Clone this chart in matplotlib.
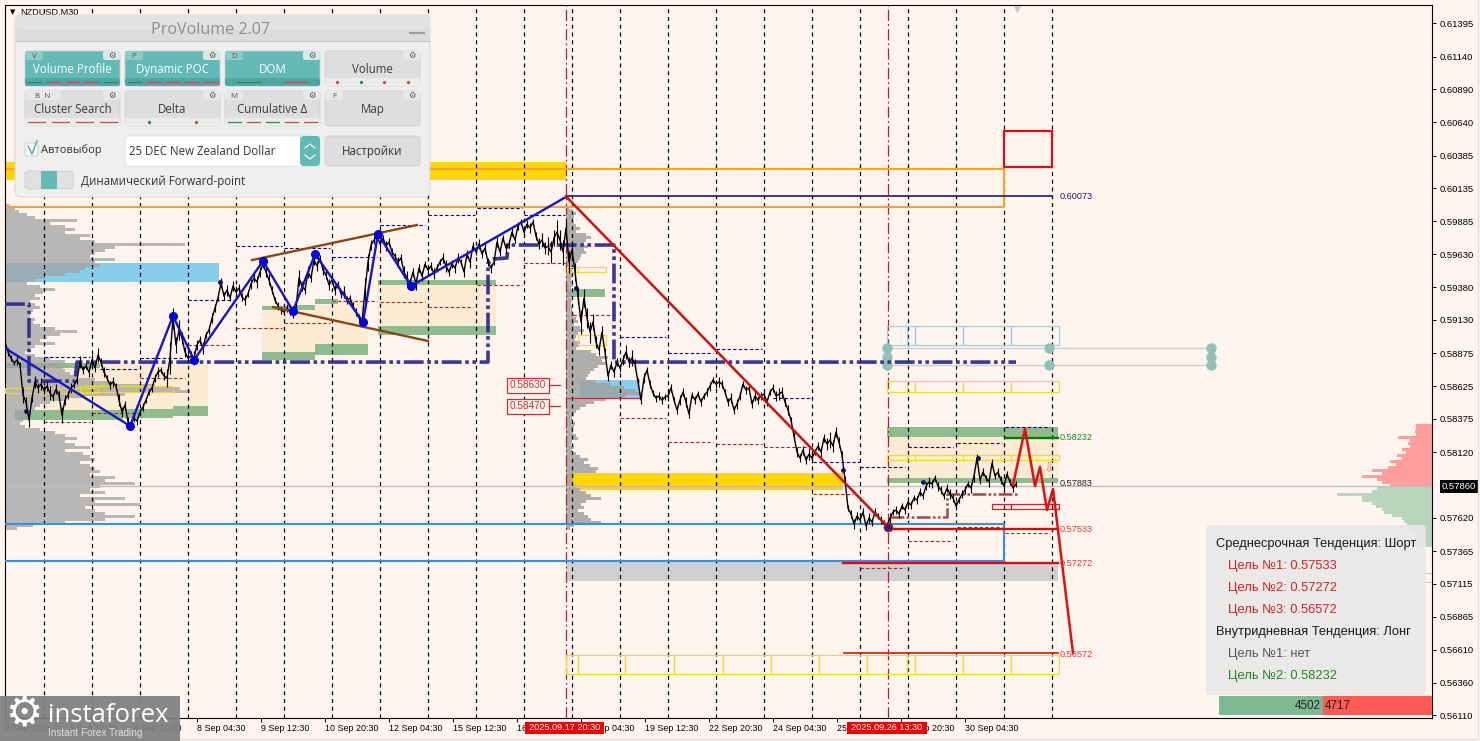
import numpy as np
import matplotlib
matplotlib.use('Agg')
import matplotlib.pyplot as plt
from matplotlib.patches import Rectangle, FancyBboxPatch

plt.rcParams['font.family'] = ['Liberation Sans', 'DejaVu Sans']

BG = '#FFF5EE'
# x axis is the M30 bar number, one bar per pixel
x_ticks = [5, 69, 133, 197, 261, 325, 389, 453, 517, 581, 645, 709, 773, 837, 901, 965]
x_labels = ['2 Sep 2025', '3 Sep 12:30', '4 Sep 20:30', '8 Sep 04:30', '9 Sep 12:30', '10 Sep 20:30',
            '12 Sep 04:30', '15 Sep 12:30', '16 Sep 20:30', '18 Sep 04:30', '19 Sep 12:30', '22 Sep 20:30',
            '24 Sep 04:30', '25 Sep 12:30', '26 Sep 20:30', '30 Sep 04:30']
y_ticks = [0.61395, 0.61140, 0.60890, 0.60640, 0.60385, 0.60135, 0.59885, 0.59630, 0.59380, 0.59130, 0.58875,
           0.58625, 0.58375, 0.58120, 0.57620, 0.57365, 0.57115, 0.56865, 0.56610, 0.56360, 0.56110]
day_lines = [44, 92, 140, 188, 236, 284, 332, 380, 428, 476, 524, 572, 620, 668, 716, 764, 812, 860, 908, 956, 1004, 1052]
last_price = 0.57860

# price, every third bar, in 1e-5
price_pts = [58961, 58885, 58839, 58801, 58824, 58786, 58556, 58503, 58365, 58533, 58656, 58610, 58640, 58595, 58625,
             58572, 58541, 58602, 58556, 58404,
             58518, 58556, 58610, 58633, 58671, 58808, 58747, 58778, 58732, 58824, 58763, 58862, 58808, 58732, 58686,
             58633, 58656, 58625, 58518, 58427, 58480, 58350,
             58335, 58381, 58358, 58427, 58465, 58518, 58579, 58610, 58686, 58732, 58747, 58701, 58686, 58839, 59144,
             58938, 59053, 58992, 58885, 58839, 58854, 58839, 58938, 58976, 58915, 59015, 59053, 59144, 59221, 59297,
             59412, 59312, 59358, 59297, 59389, 59343, 59374, 59305, 59282, 59328, 59404, 59450, 59419, 59496,
             59557, 59496, 59435, 59358, 59282, 59236, 59206, 59190, 59221, 59190, 59167, 59221, 59450,
             59389, 59358, 59496, 59450, 59587, 59542, 59603, 59511, 59473, 59397, 59435, 59358, 59404, 59328, 59343,
             59282, 59297, 59236, 59190, 59144, 59114,
             59358, 59572, 59702, 59740, 59771, 59710, 59755, 59694, 59725, 59648, 59618, 59572, 59603, 59496, 59450,
             59412, 59496, 59404, 59526, 59465, 59557, 59511, 59542, 59481, 59526, 59572, 59603, 59542, 59496, 59557,
             59526, 59603, 59572, 59496, 59633, 59572, 59694, 59648, 59710, 59633, 59679, 59572, 59526, 59572, 59725,
             59648, 59755, 59679, 59710, 59801, 59740, 59847, 59878, 59801, 59862, 59832, 59878, 59771, 59710, 59740,
             59679, 59694, 59648, 59755, 59801, 59740,
             59648, 59832, 59572, 59664, 59496, 59312, 59114, 59297, 59144, 59037, 59114, 58961, 58900, 59037, 58885,
             58701, 58786, 58732, 58808, 58763, 58824, 58885, 58808, 58839, 58793, 58656, 58518,
             58686, 58747, 58640, 58572, 58533, 58549, 58518, 58541, 58549, 58610, 58518, 58442, 58518, 58579, 58503,
             58411, 58556, 58518, 58564, 58503, 58549,
             58579, 58625, 58671, 58640, 58656, 58640, 58579, 58503, 58533, 58442, 58488, 58549, 58640, 58595, 58610,
             58488, 58549, 58518, 58549, 58564, 58503, 58579, 58610, 58549, 58564, 58579, 58503, 58442, 58365, 58243, 58121,
             58075, 58136, 58060, 58106, 58075, 58121, 58167, 58121, 58228, 58182, 58213, 58167, 58274, 58197, 58098,
             57907, 57693, 57648, 57571, 57632, 57602, 57663, 57556, 57617, 57586, 57663, 57632, 57602, 57571, 57556,
             57617, 57663, 57678, 57648, 57709, 57678,
             57739, 57716, 57770, 57755, 57816, 57785, 57861, 57892, 57877, 57923, 57861, 57831, 57785, 57846, 57800,
             57770, 57709, 57755, 57800, 57831, 57877, 57846, 57938, 58075, 57907, 57968, 57923, 57892, 58037, 57938,
             57968, 57907, 57861, 57953, 57892, 57846, 57877]
# half range of the candles around each point above, in 1e-5
price_wick = [15, 30, 22, 18, 35, 25, 60, 40, 55, 30, 48, 35, 45, 30, 38, 52, 28, 40, 33, 60,
              35, 28, 40, 22, 30, 45, 33, 25, 38, 42, 30, 50, 28, 36, 24, 32, 40, 26, 44, 35,
              30, 38, 25, 33, 28, 22, 30, 26, 20, 34, 28, 36, 22, 30, 70, 120, 80, 60, 75, 48,
              35, 28, 40, 55, 38, 30, 45, 25, 33, 40, 28, 22, 36, 30, 42, 26, 35, 48, 28, 32,
              40, 25, 38, 30, 44, 35, 28, 36, 42, 30, 24, 34, 28, 20, 30, 26, 22, 38, 60, 36,
              28, 44, 30, 40, 35, 26, 38, 30, 42, 28, 36, 25, 32, 44, 30, 24, 34, 28, 30, 38,
              90, 65, 40, 32, 28, 36, 24, 40, 30, 34, 26, 42, 30, 48, 55, 40, 34, 44, 28, 36,
              24, 38, 30, 42, 32, 26, 36, 44, 28, 30, 34, 40, 26, 36, 28, 42, 30, 24, 38, 32,
              40, 28, 34, 26, 36, 30, 22, 38, 28, 32, 24, 30, 26, 34, 28, 36, 24, 30, 42, 55,
              48, 70, 85, 60, 90, 75, 95, 70, 85, 65, 72, 60, 90, 68, 75, 80, 60, 48, 36, 44,
              32, 40, 30, 36, 28, 34, 40, 55, 38, 60, 40, 32, 28, 36, 24, 30, 22, 26, 34, 28,
              24, 38, 30, 26, 34, 40, 28, 36, 30, 24, 32, 26, 30, 22, 28, 34, 26, 30, 36, 28,
              24, 32, 40, 30, 36, 28, 22, 30, 26, 34, 38, 28, 32, 24, 30, 26, 34, 40, 48, 42,
              30, 36, 26, 32, 38, 28, 34, 30, 44, 36, 26, 34, 40, 30, 45, 60, 48, 36, 40, 28,
              34, 26, 32, 38, 30, 24, 34, 28, 36, 26, 30, 24, 34, 28, 30, 36, 26, 30, 34, 24,
              28, 36, 30, 26, 34, 28, 24, 32, 36, 30, 26, 34, 28, 24, 30, 36, 28, 34, 26, 32,
              30, 24, 36, 45, 34, 28, 32, 26, 40, 30, 26, 34, 28, 32, 26, 24, 28, 22]

zig_x = [5, 130, 173, 194, 263, 293, 315, 363, 378, 411, 566]
zig_y = [0.58915, 0.58320, 0.59160, 0.58824, 0.59580, 0.59198, 0.59633, 0.59114, 0.59786, 0.59389, 0.60069]
fall_x = [566, 888]
fall_y = [0.60073, 0.57548]
fc_x = [1013, 1025, 1035, 1040, 1047, 1053, 1073]
fc_y = [0.57869, 0.58297, 0.57861, 0.58007, 0.57678, 0.57839, 0.56586]
poc_x = [5, 29, 29, 35, 75, 77, 488, 488, 493, 507, 508, 614, 614, 1016]
poc_y = [0.59251, 0.59251, 0.58663, 0.58663, 0.58663, 0.58808, 0.58808, 0.59564, 0.59595, 0.59603, 0.59702, 0.59702, 0.58808, 0.58808]
dyn_x = [890, 947, 947, 1017]
dyn_y = [0.57625, 0.57625, 0.57800, 0.57800]

# volume profiles, widths in bars, one row each 0.000229
left_vol = [5, 10, 14, 22, 30, 72, 45, 60, 70, 60, 85, 75, 90, 180, 110, 100, 90, 85, 110, 90, 95, 80, 75, 60, 40, 30,
            22, 35, 50, 38, 30, 35, 25, 30, 35, 28, 22, 25, 30, 28, 35, 50, 72, 55, 42, 35, 50, 30, 25, 20, 30, 45, 60, 55,
            58, 60, 65, 72, 90, 110, 150, 175, 185, 120, 80, 60, 45, 35, 30, 28, 25, 22, 18, 15, 20, 35, 50, 60, 72, 60, 70,
            85, 60, 78, 85, 90, 75, 85, 90, 95, 85, 110, 100, 130, 95, 85, 100, 75, 120, 90, 135, 80, 90, 100, 130, 100, 60, 28, 12]
mid_vol = [3, 6, 10, 8, 6, 8, 10, 14, 10, 20, 25, 20, 18, 22, 18, 20, 15, 14, 12, 10, 7, 6, 7, 6, 5, 6, 7, 5, 8, 6, 5, 6, 5,
           7, 6, 6, 8, 10, 12, 8, 14, 18, 12, 10, 9, 14, 13, 10, 25, 30, 42, 36, 40, 32, 28, 24, 22, 20, 30, 45, 58, 70, 75,
           60, 40, 28, 20, 14, 10, 8, 6, 7, 9, 8, 6, 7, 10, 12, 6, 5, 8, 6, 10, 14, 22, 18, 24, 32, 30, 8, 5, 7, 6, 10, 14,
           20, 25, 35, 20, 15, 18, 12, 18, 22, 25, 35, 8, 4]
dom_ask = [16, 16, 17, 16, 34, 22, 24, 22, 30, 26, 35, 30, 42, 36, 44, 60, 50, 70, 55, 50, 42]
dom_bid = [55, 60, 95, 70, 70, 60, 56, 50, 48, 40, 30, 28, 25, 34, 20, 17, 17, 17, 17, 17]
dom_far_p = [0.57228, 0.57197, 0.57128, 0.60802, 0.57770]
dom_far_w = [24, 19, 11, 30, 214]
delta_buy = 4502
delta_sell = 4717

# zones: x0, x1, top, bottom
tan_zones = [(44, 208, 0.58793, 0.58442), (262, 368, 0.59244, 0.58885), (338, 368, 0.59282, 0.59244),
             (378, 496, 0.59397, 0.59083), (887, 1058, 0.58236, 0.57923)]
green_zones = [(5, 100, 0.58801, 0.58763), (15, 123, 0.58442, 0.58365), (123, 173, 0.58450, 0.58381), (173, 208, 0.58472, 0.58396),
               (262, 297, 0.59236, 0.59206), (297, 315, 0.59244, 0.59206), (315, 338, 0.59290, 0.59251),
               (262, 315, 0.58885, 0.58824), (315, 368, 0.58946, 0.58862),
               (378, 496, 0.59435, 0.59397), (378, 496, 0.59083, 0.59015), (566, 605, 0.59366, 0.59305),
               (887, 1058, 0.58312, 0.58236), (887, 1058, 0.57923, 0.57884)]
sky_zones = [(5, 219, 0.59564, 0.59419), (580, 640, 0.58671, 0.58534)]
gold_zones = [(5, 566, 0.60336, 0.60198), (566, 843, 0.57961, 0.57831)]
grey_zones = [(566, 1058, 0.57281, 0.57136)]

# outlined boxes: colour, cell edges, top, bottom
right_cells = [887, 907, 915, 963, 1011, 1059]
bottom_cells = [566, 578, 625, 674, 723, 771, 819, 867, 907, 915, 963, 1011, 1059]
cell_boxes = [('#9FD0E0', right_cells, 0.59083, 0.58938), ('#F3D73C', right_cells, 0.58663, 0.58579),
              ('#F3D73C', right_cells, 0.58098, 0.58060), ('#CC2222', [992, 1011, 1059], 0.57724, 0.57686),
              ('#F3D73C', bottom_cells, 0.56571, 0.56426), ('#E8D24A', [5, 98], 0.58610, 0.58572),
              ('#F3D73C', [80, 173], 0.58625, 0.58579), ('#F3D73C', [567, 578, 606], 0.59534, 0.59496),
              ('#F3D73C', [578, 606], 0.59015, 0.58938)]

# daily high / low dashes: x0, x1, price
high_dash = [(44, 90, 0.58847), (100, 138, 0.58755), (140, 183, 0.58839), (188, 233, 0.59282), (236, 282, 0.59694),
             (284, 330, 0.59679), (332, 377, 0.59610), (380, 425, 0.59855), (428, 475, 0.59931), (477, 522, 0.59985),
             (524, 565, 0.59931), (620, 666, 0.58999), (668, 713, 0.58877), (716, 762, 0.58908), (773, 810, 0.58533),
             (813, 860, 0.58045), (860, 905, 0.58007), (908, 953, 0.58159), (957, 1002, 0.58190), (1005, 1050, 0.58312)]
low_dash = [(44, 90, 0.58350), (92, 137, 0.58419), (140, 185, 0.58686), (188, 233, 0.58938), (236, 282, 0.59068),
            (284, 330, 0.59106), (332, 377, 0.59274), (380, 425, 0.59267), (428, 473, 0.59228), (477, 522, 0.59397),
            (524, 565, 0.59564), (573, 615, 0.59167), (620, 666, 0.58381), (668, 713, 0.58197), (716, 762, 0.58182),
            (764, 810, 0.58159), (813, 853, 0.57800), (860, 905, 0.57235), (908, 953, 0.57441), (957, 1002, 0.57548),
            (1005, 1050, 0.57503)]
dots_x = [26, 220, 576, 843, 923, 978]
dots_y = [0.58434, 0.59419, 0.59374, 0.57983, 0.57892, 0.58075]

fig = plt.figure(figsize=(14.8, 7.41), dpi=100, facecolor=BG)
ax = fig.add_axes([5 / 1480, 23 / 741, 1427 / 1480, 713 / 741], facecolor=BG)
ax.set_xlim(5, 1432)
ax.set_ylim(0.56090, 0.61535)


def zone(z, color, zo=1, alpha=1):
    for x0, x1, top, bot in z:
        ax.add_patch(Rectangle((x0, bot), x1 - x0, top - bot, fc=color, ec='none', zorder=zo, alpha=alpha))


zone(tan_zones, '#FDEBD3')
zone(green_zones, '#8FBC8F', 1.1)
zone(sky_zones, '#87CEEB', 1.1)
zone(gold_zones, '#FFD700', 1.1)
zone(grey_zones, '#D0D0D0', 1.1)

left_rows = 0.60007 - 0.000229 * np.arange(len(left_vol))
mid_rows = 0.59985 - 0.000229 * np.arange(len(mid_vol))
ask_rows = 0.58327 - 0.000229 * np.arange(len(dom_ask))
bid_rows = 0.57846 - 0.000229 * np.arange(len(dom_bid))
ax.barh(left_rows, left_vol, left=5, height=0.000229, color='#A2A2A2', alpha=0.75, lw=0, zorder=1.5)
ax.barh(mid_rows, mid_vol, left=566, height=0.000229, color='#A2A2A2', alpha=0.85, lw=0, zorder=1.5)
ax.barh(ask_rows, dom_ask, left=1432 - np.array(dom_ask), height=0.000229, color='#FF9E9A', lw=0, zorder=1.5)
ax.barh(bid_rows, dom_bid, left=1432 - np.array(dom_bid), height=0.000229, color='#B9D6BD', lw=0, zorder=1.5)
ax.barh(dom_far_p, dom_far_w, left=1432 - np.array(dom_far_w), height=0.00007,
        color=['#B9D6BD', '#B9D6BD', '#B9D6BD', '#F7B5A5', '#C9DDCB'], lw=0, zorder=1.5)

for d in day_lines:
    ax.axvline(d, color='black', lw=0.9, ls=(0, (3.2, 3)), zorder=2)
for d in (566, 888):
    ax.axvline(d, color='#B22222', lw=0.9, ls=(0, (9, 2.5, 1.5, 2.5)), zorder=2)
ax.axhline(last_price, color='#BDBDBD', lw=1, zorder=2)

# level lines
ax.plot([5, 566], [0.60282, 0.60282], color='#F5A623', lw=1.5, zorder=2.2)
ax.plot([566, 1004, 1004, 5], [0.60282, 0.60282, 0.59992, 0.59992], color='#F5A623', lw=1.5, zorder=2.2)
ax.add_patch(Rectangle((1004, 0.60298), 48, 0.00275, fc='none', ec='#E01010', lw=1.6, zorder=3))
ax.plot([566, 820, 820, 1052], [0.60073, 0.60073, 0.60078, 0.60078], color='#191970', lw=1.2, zorder=3)
ax.plot([5, 1004, 1004, 5], [0.57571, 0.57571, 0.57289, 0.57289], color='#3A8FDD', lw=1.5, zorder=3)
ax.plot([888, 1058], [0.57533, 0.57533], color='#CC1010', lw=1.7, zorder=3.1)
ax.plot([843, 1058], [0.57272, 0.57272], color='#DD0A0A', lw=1.7, zorder=3.1)
ax.plot([844, 1058], [0.56586, 0.56586], color='#E01010', lw=1.2, zorder=3.1)
ax.plot([1006, 1058], [0.58232, 0.58232], color='#008000', lw=1.7, zorder=3.1)
ax.plot([566, 640], [0.58534, 0.58534], color='#C03030', lw=0.8, zorder=3.1)

for color, edges, top, bot in cell_boxes:
    for x0, x1 in zip(edges[:-1], edges[1:]):
        ax.add_patch(Rectangle((x0, bot), x1 - x0, top - bot, fc='none', ec=color, lw=0.9, zorder=3))

for x0, x1, p in high_dash:
    ax.plot([x0, x1], [p, p], color='#00008B', lw=0.8, ls=(0, (3, 2)), zorder=3)
for x0, x1, p in low_dash:
    ax.plot([x0, x1], [p, p], color='#B22222', lw=0.8, ls=(0, (3, 2)), zorder=3)

ax.plot(poc_x, poc_y, color='#2E2E8F', lw=2.6, ls=(0, (5.5, 1, 1, 1, 1, 1)), zorder=3.3, alpha=0.95)
ax.plot(dyn_x, dyn_y, color='#A04848', lw=1.8, ls=(0, (5.5, 1, 1, 1, 1, 1)), zorder=3.3)

# handles of the fib box
for p in (0.58915, 0.58786):
    ax.plot([887, 1211], [p, p], color='#CFCFCF', lw=1, zorder=3.2)
ax.plot([887, 887, 887, 1049, 1049, 1211, 1211, 1211], [0.58915, 0.58847, 0.58786, 0.58915, 0.58786, 0.58915, 0.58847, 0.58786],
        'o', ms=7.5, color='#8FC1B8', mec='none', zorder=3.2)

price_x = 5 + 3 * np.arange(len(price_pts))
price_c = np.array(price_pts) / 1e5
wick = np.array(price_wick) / 1e5
ax.vlines(price_x[:len(wick)], price_c[:len(wick)] - wick, price_c[:len(wick)] + wick, color='black', lw=0.8, zorder=4)
ax.plot(price_x, price_c, color='black', lw=1.0, zorder=4)
ax.plot(dots_x, dots_y, 'o', ms=3.5, color='#10106A', mec='none', zorder=4.2)
ax.plot([252, 417], [0.59587, 0.59855], color='#8B4513', lw=1.7, zorder=4.3)
ax.plot([273, 428], [0.59228, 0.58969], color='#8B4513', lw=1.7, zorder=4.3)
ax.plot(zig_x, zig_y, color='#1515C8', lw=1.7, zorder=4.5)
ax.plot(zig_x[1:-1], zig_y[1:-1], 'o', ms=6.5, color='#0000E0', mec='none', zorder=4.6)
ax.plot(fall_x, fall_y, color='#CC1111', lw=1.8, zorder=4.5)
ax.plot(fall_x[1], fall_y[1], 'o', ms=6, color='#20209A', mec='#CC1111', zorder=4.6)
ax.plot(fc_x, fc_y, color='#E01010', lw=1.8, zorder=4.5)

ax.text(1060, 0.60073, '0.60073', color='#191970', fontsize=6.6, va='center', zorder=5)
ax.text(1060, 0.58232, '0.58232', color='#1B8A1B', fontsize=6.6, va='center', zorder=5)
ax.text(1060, 0.57883, '0.57883', color='#222222', fontsize=6.6, va='center', zorder=5)
ax.text(1060, 0.57533, '0.57533', color='#E03A3A', fontsize=6.6, va='center', zorder=5)
ax.text(1060, 0.57272, '0.57272', color='#E03A3A', fontsize=6.6, va='center', zorder=5)
ax.text(1060, 0.56572, '0.56572', color='#E03A3A', fontsize=6.6, va='center', zorder=5)
ax.text(1049, 0.57990, '\u21e9', color='#F07F70', fontsize=9, ha='center', va='center', zorder=5, family='DejaVu Sans')
for p in (0.58630, 0.58470):
    ax.text(528, p, '0.%s' % str(round(p * 1e5)), color='#C83030', fontsize=7.2, ha='center', va='center', zorder=5,
            bbox=dict(boxstyle='square,pad=0.25', fc=BG, ec='#C83030', lw=0.9))
    ax.plot([549, 560], [p, p], color='#C83030', lw=0.9, zorder=5)

# delta bar, scaled to the two volumes
k = 213 / (delta_buy + delta_sell)
ax.barh(0.56185, delta_buy * k, left=1219, height=0.00145, color='#7FB992', lw=0, zorder=5)
ax.barh(0.56185, delta_sell * k, left=1219 + delta_buy * k, height=0.00145, color='#FF5A55', lw=0, zorder=5)
ax.text(1219 + delta_buy * k - 2, 0.56180, str(delta_buy), ha='right', va='center', fontsize=8.4, color='#222222', zorder=6)
ax.text(1219 + delta_buy * k + 2, 0.56180, str(delta_sell), ha='left', va='center', fontsize=8.4, color='#222222', zorder=6)

ax.set_xticks(x_ticks)
ax.set_xticklabels(x_labels, fontsize=6.4, ha='left')
ax.set_yticks(y_ticks)
ax.set_yticklabels(['%.5f' % v for v in y_ticks], fontsize=6.8)
ax.yaxis.tick_right()
ax.tick_params(axis='both', length=3, width=0.7, pad=2.5, color='black')
ax.tick_params(axis='x', pad=1.5)
for s in ax.spines.values():
    s.set_linewidth(0.8)
ax.text(1.0068, last_price, '%.5f' % last_price, transform=ax.get_yaxis_transform(), fontsize=6.8, color='white',
        va='center', ha='left', zorder=8, clip_on=False, bbox=dict(boxstyle='square,pad=0.2', fc='black', ec='none'))
ax.text(15, 0.61481, '\u25bc', fontsize=5, family='DejaVu Sans', ha='right', va='center')
ax.text(20, 0.61481, 'NZDUSD,M30', fontsize=6.6, va='center', zorder=2)
ax.plot([1017], [0.61505], 'v', ms=6, color='#C8C8C8', mec='none', clip_on=True)

# overlay in figure pixels for the panel, the trend table and the logo
ui = fig.add_axes([0, 0, 1, 1], facecolor='none')
ui.set_xlim(0, 1480)
ui.set_ylim(741, 0)
ui.axis('off')


def rbox(x0, y0, x1, y1, fc, ec='none', r=3, zo=1, lw=0.6, alpha=1):
    ui.add_patch(FancyBboxPatch((x0 + r, y0 + r), x1 - x0 - 2 * r, y1 - y0 - 2 * r, boxstyle='round,pad=%g,rounding_size=%g' % (r, r),
                                fc=fc, ec=ec, lw=lw, zorder=zo, alpha=alpha))


def label(x, y, s, size=8.3, color='#333333', ha='center', zo=5, fam='Open Sans', weight='normal'):
    ui.text(x, y + 1.5, s, fontsize=size, color=color, ha=ha, va='center', zorder=zo, family=[fam, 'DejaVu Sans'], fontweight=weight)


rbox(15, 15, 430, 197, '#EFEFEF', ec='#D4D4D4', r=6)
ui.add_patch(Rectangle((16, 21), 413, 20, fc='#DCDCDC', ec='none', zorder=1.1))
rbox(16, 16, 429, 30, '#E2E2E2', r=5, zo=1.1)
ui.plot([16, 429], [41, 41], color='#C4C4C4', lw=0.8, zorder=1.2)
label(211, 28, 'ProVolume 2.07', size=11.6, color='#8E8E8E', zo=2)
ui.plot([410, 424], [33, 33], color='#9A9A9A', lw=1.4, zorder=2)

TEAL = '#62B9B5'
btn_x = [(25, 120), (125, 220), (225, 320), (325, 420)]
btn_text = ['Volume Profile', 'Dynamic POC', 'DOM', 'Volume', 'Cluster Search', 'Delta', 'Cumulative \u0394', 'Map']
btn_key = ['V', 'P', 'D', '', 'B  N', '', 'M', 'F']
btn_marks = [['g', 'r', 'r', 'r', 'g'], ['g', 'r', 'r', 'r', 'r'], ['g', 'r'], ['.r', '.g', '.r', '.r'],
             ['r', 'r', 'r', 'r'], ['.g', '.r'], ['g', 'r', 'g', 'r', 'r'], []]
for i, name in enumerate(btn_text):
    x0, x1 = btn_x[i % 4]
    y0 = 51 if i < 4 else 91
    y1 = y0 + 35
    on = i < 3
    rbox(x0, y0, x1, y1, TEAL if on else '#DEDEDE', ec='#CFCFCF', zo=2)
    if btn_marks[i]:
        rbox(x0, y1 - 8, x1, y1, '#4FA7A3' if on else '#EBEBEB', r=2, zo=2.1)
    label((x0 + x1) / 2, y0 + 17, name, color='white' if on else '#3A3A3A', zo=3)
    n = len(btn_marks[i])
    for j, m in enumerate(btn_marks[i]):
        cx = x0 + (x1 - x0) * (j + 0.5) / max(n, 1)
        col = '#2E8B57' if 'g' in m else '#C0504D'
        if m[0] == '.':
            ui.plot([cx], [y1 - 4], 'o', ms=2.4, color=col, mec='none', zorder=3)
        else:
            half = min(12, (x1 - x0) / n * 0.36)
            ui.plot([cx - half, cx + half], [y1 - 4, y1 - 4], color=col, lw=0.9, zorder=3)
    rbox(x1 - 17, y0, x1, y0 + 9, '#E8E8E8' if not on else '#D6E8E7', r=2, zo=2.2)
    ui.text(x1 - 8.5, y0 + 4.5, '\u2699', fontsize=6, color='#555555', ha='center', va='center', zorder=3, family='DejaVu Sans')
    if btn_key[i]:
        w = 18 if len(btn_key[i]) == 1 else 36
        rbox(x0, y0, x0 + w, y0 + 9, '#E8E8E8' if not on else '#8CCBC8', r=2, zo=2.2)
        label(x0 + w / 2, y0 + 4, btn_key[i], size=5.8, color='#555555')

rbox(25, 143, 38, 156, '#F8F8F8', ec='#C8C8C8', r=2, zo=2)
ui.plot([28, 32, 37], [146, 154, 141], color='#4FA7A3', lw=1, zorder=3)
label(41, 149, 'Автовыбор', size=8, ha='left')
rbox(125, 136, 320, 166, 'white', ec='#E0E0E0', r=4, zo=2)
rbox(300, 136, 320, 166, TEAL, r=4, zo=2.1)
ui.plot([305, 310, 315], [148, 144, 148], color='white', lw=0.8, zorder=3)
ui.plot([305, 310, 315], [155, 159, 155], color='white', lw=0.8, zorder=3)
label(129, 150, '25 DEC New Zealand Dollar', size=8.3, ha='left')
rbox(325, 136, 420, 166, '#DEDEDE', ec='#CFCFCF', r=4, zo=2)
label(372, 150, 'Настройки', size=8.3)
rbox(25, 171, 73, 189, '#E0E0E0', ec='#D0D0D0', r=3, zo=2)
ui.add_patch(Rectangle((41, 171), 16, 18, fc=TEAL, ec='none', zorder=3))
label(81, 179.5, 'Динамический Forward-point', size=8.3, ha='left')

# trend table
rbox(1206, 525, 1426, 695, '#E8E8E8', r=4, zo=1, alpha=0.88)
table_lines = [('Среднесрочная Тенденция: Шорт', 1216, 542, '#1A1A1A'), ('Цель №1: 0.57533', 1228, 565, '#D82020'),
               ('Цель №2: 0.57272', 1228, 587, '#D82020'), ('Цель №3: 0.56572', 1228, 608, '#D82020'),
               ('Внутридневная Тенденция: Лонг', 1216, 630, '#1A1A1A'), ('Цель №1: нет', 1228, 652, '#555555'),
               ('Цель №2: 0.58232', 1228, 674, '#1B8A1B')]
for s, x, y, c in table_lines:
    label(x, y, s, size=9.25, color=c, ha='left', fam='Liberation Sans')

# red time flags on the axis
for x0, x1, s in [(525, 604, '2025.09.17 20:30'), (847, 927, '2025.09.26 13:30')]:
    ui.add_patch(Rectangle((x0, 722), x1 - x0, 12, fc='#F00000', ec='none', zorder=3))
    label((x0 + x1) / 2, 726.5, s, size=6.6, color='white', fam='Liberation Sans')

# logo
ui.add_patch(Rectangle((0, 696), 180, 45, fc='#7F7F7F', ec='none', alpha=0.93, zorder=6))
ui.text(24, 714, '\u2699', fontsize=30, color='white', ha='center', va='center', zorder=7, family='DejaVu Sans')
ui.text(48, 715, 'instaforex', fontsize=18.5, color='white', ha='left', va='center', zorder=7, family=['Open Sans'])
ui.text(48, 733, 'Instant Forex Trading', fontsize=7.2, color='#E0E0E0', ha='left', va='center', zorder=7, family=['Liberation Sans'])

# outer window edge
ui.plot([1478, 1478, 0], [0, 739, 739], color='#E2E2E2', lw=1)

fig.savefig('out.png', dpi=100, facecolor=BG)
